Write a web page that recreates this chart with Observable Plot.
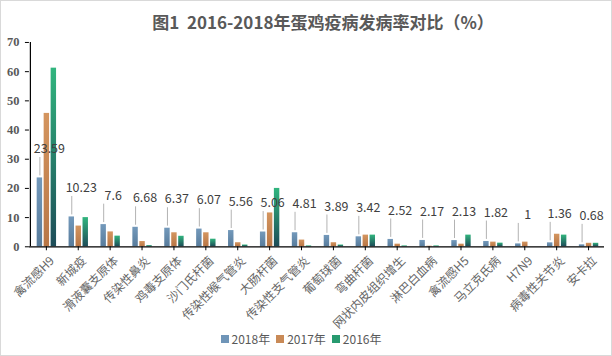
<!DOCTYPE html>
<html>
<head>
<meta charset="utf-8">
<script src="https://cdn.jsdelivr.net/npm/d3@7"></script>
<script src="https://cdn.jsdelivr.net/npm/@observablehq/plot@0.6"></script>
<style>
  html, body { margin: 0; padding: 0; background: #fff; }
  #wrap { position: relative; width: 612px; height: 356px; box-sizing: border-box; border: 1px solid #d9d9d9; overflow: hidden; font-family: "Noto Sans CJK SC", "Noto Sans", sans-serif; }
  #title { height: 32px; line-height: 42px; text-align: center; font-size: 17px; font-weight: bold; color: #595959; white-space: nowrap; padding-left: 34px; }
  #legend { height: 20px; line-height: 20px; display: flex; justify-content: center; align-items: center; font-size: 12px; color: #595959; gap: 6px; padding-right: 10px; }
  #legend .sw { display: inline-block; width: 8px; height: 8px; margin-right: 3px; vertical-align: middle; }
  #legend span.item { display: inline-flex; align-items: center; }
  svg { overflow: visible; }
</style>
</head>
<body>
<div id="wrap">
  <div id="title">图1&nbsp;&nbsp;2016-2018年蛋鸡疫病发病率对比（%）</div>
  <div id="chart"></div>
  <div id="legend"></div>
</div>
<script>
const categories = ["禽流感H9", "新城疫", "滑液囊支原体", "传染性鼻炎", "鸡毒支原体", "沙门氏杆菌", "传染性喉气管炎", "大肠杆菌", "传染性支气管炎", "葡萄球菌", "弯曲杆菌", "网状内皮组织增生", "淋巴白血病", "禽流感H5", "马立克氏病", "H7N9", "病毒性关节炎", "安卡拉"];
const years = ["2018年", "2017年", "2016年"];
const v2018 = [23.59, 10.23, 7.6, 6.68, 6.37, 6.07, 5.56, 5.06, 4.81, 3.89, 3.42, 2.52, 2.17, 2.13, 1.82, 1, 1.36, 0.68];
const v2017 = [45.7, 7.1, 5.1, 1.8, 4.8, 4.8, 1.4, 11.6, 2.3, 1.4, 4.0, 0.9, 0.2, 0.9, 1.6, 1.6, 4.3, 1.2];
const v2016 = [61.2, 10.0, 3.65, 0.4, 3.6, 2.6, 0.6, 20.0, 0.3, 0.6, 4.0, 0.3, 0.3, 4.0, 1.25, 0, 4.0, 1.2];
const yTicks = [0, 10, 20, 30, 40, 50, 60, 70];

const rows18 = categories.map((c, i) => ({cat: c, v: v2018[i]}));
const rows17 = categories.map((c, i) => ({cat: c, v: v2017[i]}));
const rows16 = categories.map((c, i) => ({cat: c, v: v2016[i]}));

const W = 612, H = 297, ML = 28, MR = 7;
const bw = (W - ML - MR) / categories.length;
const half = bw / 2;

const chart = Plot.plot({
  width: W,
  height: H,
  marginLeft: ML,
  marginRight: MR,
  marginTop: 9,
  marginBottom: 83,
  style: {background: "transparent", overflow: "visible"},
  x: {domain: categories, padding: 0, label: null},
  y: {domain: [0, 70], label: null},
  marks: [
    Plot.barY(rows18, {x: "cat", y: "v", fill: "url(#g2018)", insetLeft: half - 9.25, insetRight: half + 3.75}),
    Plot.barY(rows17, {x: "cat", y: "v", fill: "url(#g2017)", insetLeft: half - 2.25, insetRight: half - 3.25}),
    Plot.barY(rows16, {x: "cat", y: "v", fill: "url(#g2016)", insetLeft: half + 4.75, insetRight: half - 10.25}),
    Plot.ruleX(rows18, {x: "cat", y1: d => d.v + 0.7, y2: d => d.v + 7, dx: -6.5, stroke: "#a0a0a0", strokeWidth: 0.8}),
    Plot.text(rows18, {x: "cat", y: "v", text: d => String(d.v), dy: -29, dx: 3, fontSize: 12.5, fill: "#404040", fontFamily: "'Noto Sans CJK SC', sans-serif"}),
    Plot.ruleY([0], {stroke: "#000", strokeWidth: 1.2}),
    Plot.ruleX([categories[0]], {y1: 0, y2: 70, dx: -half, stroke: "#000", strokeWidth: 1.2}),
    Plot.axisY({ticks: yTicks, tickSize: 4, tickPadding: 6, fontSize: 12.5, fill: "#595959", stroke: "#000", fontFamily: "'Liberation Serif', serif", fontWeight: "bold", tickFormat: d => d}),
    Plot.axisX({tickSize: 4, tickFormat: () => "", stroke: "#000"}),
    Plot.axisX({tickSize: 0, tickRotate: -45, tickPadding: 3, dx: 6, dy: 9, fontSize: 12, fill: "#666", fontFamily: "'Noto Sans CJK SC', sans-serif"})
  ]
});

// gradients for bars
const svg = d3.select(chart.tagName.toLowerCase() === "svg" ? chart : chart.querySelector("svg"));
const defs = svg.insert("defs", ":first-child");
const grads = [
  ["g2018", "#7399bb", "#587c9c"],
  ["g2017", "#d4955f", "#b87646"],
  ["g2016", "#31b57e", "#1d4c58"]
];
for (const [id, top, bot] of grads) {
  const g = defs.append("linearGradient").attr("id", id).attr("x1", 0).attr("y1", 0).attr("x2", 0).attr("y2", 1);
  g.append("stop").attr("offset", "0%").attr("stop-color", top);
  g.append("stop").attr("offset", "100%").attr("stop-color", bot);
}
document.getElementById("chart").appendChild(chart);

const legendColors = ["#6f95b8", "#c98a57", "#279a6f"];
const legend = d3.select("#legend");
years.forEach((y, i) => {
  const it = legend.append("span").attr("class", "item");
  it.append("span").attr("class", "sw").style("background", legendColors[i]);
  it.append("span").text(y);
});
</script>
</body>
</html>
